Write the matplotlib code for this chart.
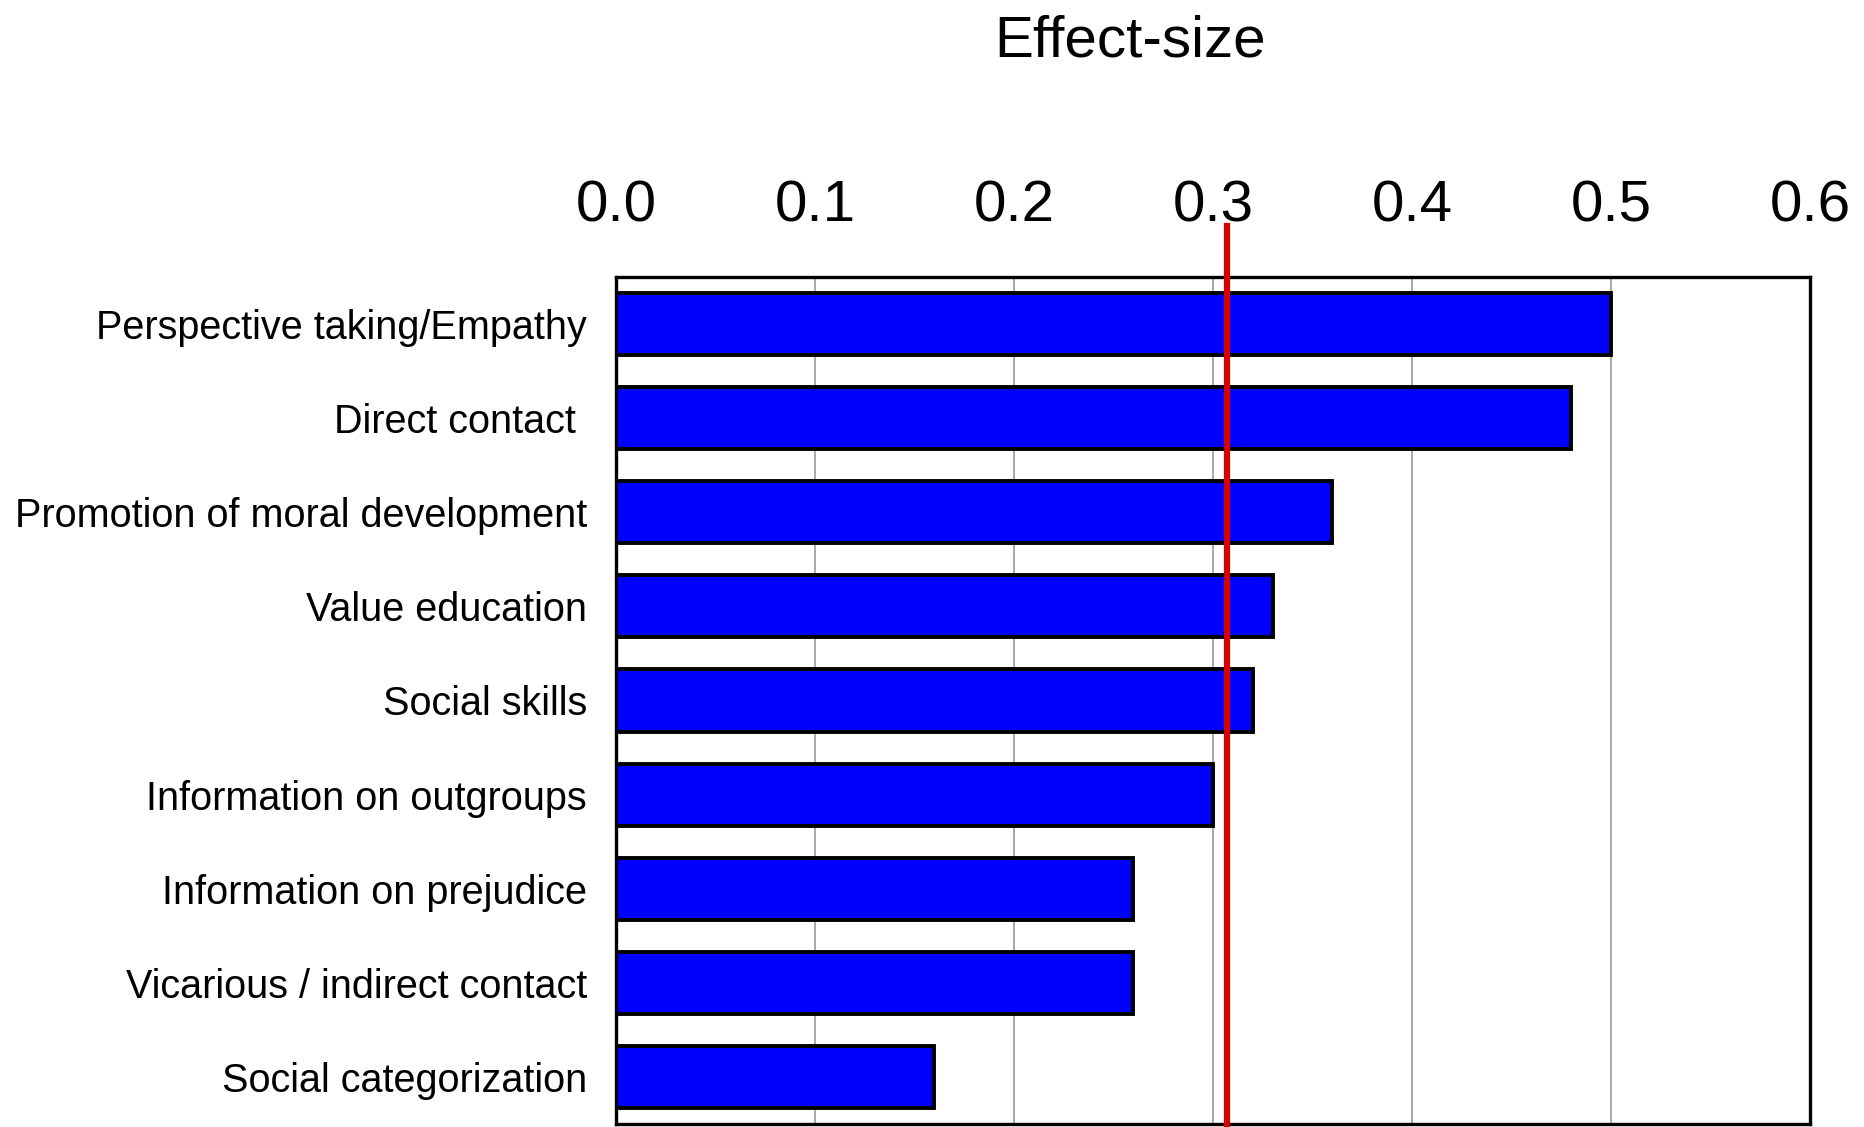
import matplotlib
matplotlib.use("Agg")
import matplotlib.pyplot as plt
import matplotlib.transforms as mtransforms

plt.rcParams['font.family'] = ['Liberation Sans', 'DejaVu Sans']

categories = [
    "Perspective taking/Empathy",
    "Direct contact ",
    "Promotion of moral development",
    "Value education",
    "Social skills",
    "Information on outgroups",
    "Information on prejudice",
    "Vicarious / indirect contact",
    "Social categorization",
]
effect_sizes = [0.50, 0.48, 0.36, 0.33, 0.32, 0.30, 0.26, 0.26, 0.16]
mean_effect = 0.307
xticks = [0.0, 0.1, 0.2, 0.3, 0.4, 0.5, 0.6]
xtick_labels = ["0.0", "0.1", "0.2", "0.3", "0.4", "0.5", "0.6"]
title = "Effect-size"

fig = plt.figure(figsize=(18.64, 11.27), dpi=100)
ax = fig.add_axes([0.3305, 0.0027, 0.6405, 0.7515])

ypos = list(range(len(categories)))
ax.barh(ypos, effect_sizes, height=0.66, color="#0000ff",
        edgecolor="black", linewidth=2.8, zorder=3)

ax.set_xlim(0, 0.6)
ax.set_ylim(len(categories) - 0.5, -0.5)
ax.set_yticks(ypos)
ax.set_yticklabels(categories, fontsize=28.5)
ax.set_xticks(xticks)
ax.set_xticklabels(xtick_labels, fontsize=42)
ax.xaxis.tick_top()
ax.tick_params(axis='x', length=0, pad=31)
ax.tick_params(axis='y', length=0, pad=21)

ax.grid(axis='x', color="#999999", linewidth=1.2, zorder=0)
ax.set_axisbelow(True)
for sp in ax.spines.values():
    sp.set_linewidth(2.4)
    sp.set_color("black")

trans = mtransforms.blended_transform_factory(ax.transData, ax.transAxes)
ax.plot([mean_effect, mean_effect], [-0.01, 1.06], transform=trans,
        color="#d40000", linewidth=4.5, clip_on=False, zorder=5)

fig.text(0.606, 0.963, title, fontsize=42, ha="center", va="center")

fig.savefig("out.png", dpi=100)
